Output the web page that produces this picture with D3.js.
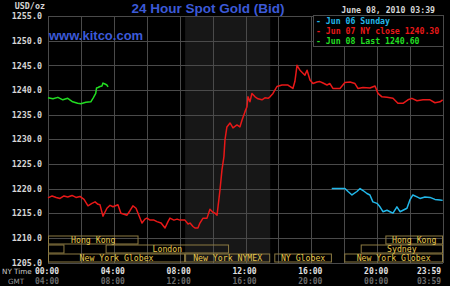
<!DOCTYPE html>
<html>
<head>
<meta charset="utf-8">
<script src="https://cdn.jsdelivr.net/npm/d3@7"></script>
<style>
  body { margin: 0; background: #000; overflow: hidden; }
  svg { display: block; }
  text { font-family: 'DejaVu Sans Mono', monospace; }
</style>
</head>
<body>
<svg></svg>
<script>
// ---- data (hours in NY time, price in USD/oz) ----
const jun08Hours = [0, 0.3, 0.6, 0.9, 1.2, 1.5, 1.8, 2.0, 2.3, 2.6, 2.75, 2.9, 2.95, 3.04, 3.16, 3.28, 3.34, 3.46, 3.58, 3.65];
const jun08Values = [1238.4, 1238.2, 1238.5, 1238.0, 1238.3, 1237.6, 1237.3, 1237.2, 1237.5, 1237.6, 1238.4, 1239.3, 1240.4, 1240.5, 1240.7, 1240.8, 1241.4, 1241.2, 1241.0, 1240.6];

const jun07Hours = [
  0, 0.25, 0.5, 0.73, 0.97, 1.2, 1.46, 1.7, 1.94, 2.19, 2.43, 2.67, 2.86, 3.04, 3.16, 3.34, 3.58, 3.77, 3.95,
  4.25, 4.43, 4.62, 4.8, 4.98, 5.16, 5.35, 5.47, 5.71, 5.89, 6.01, 6.2, 6.44, 6.62, 6.87, 7.11, 7.29, 7.41,
  7.65, 7.84, 8.02, 8.32, 8.51, 8.63, 8.81, 8.93, 9.11, 9.23, 9.42, 9.66, 9.84, 10.02, 10.15, 10.27, 10.33,
  10.45, 10.57, 10.69, 10.75, 10.87, 11.06, 11.24, 11.48, 11.66, 11.79, 11.97, 12.09, 12.15, 12.27, 12.39,
  12.58, 12.76, 13.0, 13.18, 13.37, 13.49, 13.67, 13.91, 14.22, 14.58, 14.88, 15.0, 15.13, 15.31, 15.49,
  15.61, 15.74, 15.92, 16.1, 16.34, 16.52, 16.71, 16.95, 17.13, 17.31, 17.74, 18.04, 18.35, 18.65, 18.83,
  19.14, 19.56, 19.87, 20.05, 20.29, 20.6, 20.96, 21.26, 21.57, 21.87, 22.11, 22.42, 22.78, 23.21, 23.51,
  23.82, 23.98
];
const jun07Values = [
  1218.1, 1218.5, 1218.2, 1218.0, 1218.5, 1218.3, 1218.6, 1218.2, 1218.4, 1217.8, 1216.5, 1217.0, 1217.3, 1216.8, 1216.7, 1214.4, 1216.0, 1216.6, 1216.3,
  1216.7, 1215.0, 1214.8, 1214.6, 1215.5, 1216.5, 1216.0, 1215.0, 1213.0, 1213.8, 1214.0, 1213.6, 1213.6, 1213.3, 1213.0, 1212.0, 1213.3, 1214.0,
  1213.6, 1213.8, 1213.6, 1213.6, 1212.8, 1213.0, 1212.3, 1212.0, 1212.0, 1213.0, 1214.0, 1214.0, 1215.8, 1215.2, 1215.0, 1214.6, 1216.3,
  1219.7, 1223.8, 1226.5, 1229.8, 1232.5, 1233.3, 1232.3, 1232.9, 1232.5, 1233.9, 1235.6, 1236.6, 1238.6, 1237.6, 1239.3,
  1238.6, 1238.2, 1238.0, 1238.4, 1238.3, 1238.6, 1239.3, 1240.7, 1241.0, 1241.0, 1240.3, 1241.7, 1245.0, 1244.0, 1243.4,
  1243.0, 1244.0, 1242.0, 1241.3, 1241.6, 1241.7, 1241.4, 1241.0, 1241.3, 1240.3, 1240.3, 1241.5, 1241.6, 1241.3, 1240.3,
  1240.5, 1240.4, 1240.8, 1239.3, 1238.6, 1238.5, 1238.3, 1237.3, 1237.3, 1238.0, 1238.3, 1237.8, 1238.0, 1238.0, 1237.4,
  1237.6, 1238.0
];

const jun06Hours = [17.24, 18.04, 18.23, 18.47, 18.77, 18.96, 19.14, 19.38, 19.56, 19.74, 19.99, 20.17, 20.35, 20.6, 20.78, 20.96, 21.2, 21.39, 21.57, 21.81, 21.99, 22.17, 22.42, 22.6, 22.9, 23.21, 23.51, 23.82, 23.98];
const jun06Values = [1220.0, 1220.0, 1219.4, 1218.7, 1219.4, 1220.0, 1219.6, 1219.0, 1218.7, 1217.3, 1217.0, 1216.3, 1215.3, 1215.6, 1215.3, 1215.0, 1216.3, 1215.3, 1215.6, 1216.0, 1217.7, 1218.7, 1218.3, 1218.0, 1218.3, 1218.2, 1217.8, 1217.7, 1217.6];

const legendLabels = ['- Jun 06 Sunday', '- Jun 07 NY close 1240.30', '- Jun 08 Last 1240.60'];
const yTicks = [1205, 1210, 1215, 1220, 1225, 1230, 1235, 1240, 1245, 1250, 1255];
const timeTickHours = [0, 4, 8, 12, 16, 20, 24];
const nyTimeLabels = ['00:00', '04:00', '08:00', '12:00', '16:00', '20:00', '23:59'];
const gmtTimeLabels = ['04:00', '08:00', '12:00', '16:00', '20:00', '00:00', '03:59'];

const sessionNames = ['Hong Kong', 'Sydney', 'London', 'New York Globex', 'New York NYMEX', 'NY Globex', 'New York Globex', 'Sydney', 'Hong Kong'];
const sessionStart = [0, 0, 3.5, 0, 8.33, 13.75, 18, 19, 20.5];
const sessionEnd = [5.5, 1, 11, 8.33, 13.5, 17.25, 24, 24, 24];
const sessionRow = [0, 1, 1, 2, 2, 2, 2, 1, 0];

// ---- layout ----
const width = 450;
const height = 286;
const margin = { left: 48, top: 16, right: 7, bottom: 23.5 };
const innerWidth = width - margin.left - margin.right;
const innerHeight = height - margin.top - margin.bottom;
const bottomY = margin.top + innerHeight;

const colors = { jun06: '#22b8ea', jun07: '#e81818', jun08: '#22dd22' };
const blue = '#3c5ad8';
const gridColor = '#4a4a4a';

const svg = d3.select('svg').attr('width', width).attr('height', height);

svg.append('rect').attr('width', width).attr('height', height).attr('fill', '#000');

const x = d3.scaleLinear().domain([0, 24]).range([margin.left, margin.left + innerWidth]);
const y = d3.scaleLinear().domain([1205, 1255]).range([bottomY, margin.top]);

// NYMEX pit hours shading
const nymex = sessionNames.indexOf('New York NYMEX');
svg.append('rect')
  .attr('x', x(sessionStart[nymex]))
  .attr('y', margin.top)
  .attr('width', x(sessionEnd[nymex]) - x(sessionStart[nymex]))
  .attr('height', innerHeight)
  .attr('fill', '#171717');

// grid
svg.append('g')
  .attr('transform', `translate(0, ${bottomY})`)
  .call(d3.axisBottom(x).tickValues(d3.range(0, 25, 2)).tickSize(-innerHeight).tickFormat(''))
  .call((g) => g.select('.domain').remove())
  .call((g) => g.selectAll('text').remove())
  .call((g) => g.selectAll('line').attr('stroke', gridColor).attr('shape-rendering', 'crispEdges'));

svg.append('g')
  .attr('transform', `translate(${margin.left}, 0)`)
  .call(d3.axisLeft(y).tickValues(yTicks).tickSize(-innerWidth).tickFormat(''))
  .call((g) => g.select('.domain').remove())
  .call((g) => g.selectAll('text').remove())
  .call((g) => g.selectAll('line').attr('stroke', gridColor).attr('shape-rendering', 'crispEdges'));

// y labels
svg.append('g')
  .attr('transform', `translate(${margin.left - 3}, 0)`)
  .call(d3.axisLeft(y).tickValues(yTicks).tickSize(0).tickFormat(d3.format('.1f')))
  .call((g) => g.select('.domain').remove())
  .call((g) => g.selectAll('text')
    .attr('fill', '#d6d6d6')
    .style('font-family', "'DejaVu Sans Mono', monospace")
    .style('font-size', '8.4px')
    .style('font-weight', 'bold'));

svg.append('text')
  .attr('x', margin.left - 3).attr('y', 9)
  .attr('text-anchor', 'end')
  .attr('fill', '#d6d6d6')
  .style('font-size', '8.4px').style('font-weight', 'bold')
  .text('USD/oz');

// trading sessions
const rowH = 9;
const sessions = sessionNames.map((name, i) => ({
  name, start: sessionStart[i], end: sessionEnd[i], row: sessionRow[i],
}));
const sg = svg.append('g').attr('class', 'sessions');
sessions.forEach((s) => {
  const y0 = bottomY - (3 - s.row) * rowH;
  const w = x(s.end) - x(s.start);
  sg.append('rect')
    .attr('x', x(s.start) + 0.5).attr('y', y0 + 0.5)
    .attr('width', w - 1).attr('height', rowH - 1)
    .attr('fill', 'none').attr('stroke', '#8c7a42');
  if (w > s.name.length * 5) {
    sg.append('text')
      .attr('x', x(s.start) + w / 2).attr('y', y0 + rowH - 1.5)
      .attr('text-anchor', 'middle')
      .attr('fill', '#e8c84c')
      .style('font-size', '8.2px')
      .text(s.name);
  }
});

// price lines
const line = d3.line().x((d) => x(d[0])).y((d) => y(d[1]));
const series = [
  { key: 'jun07', hours: jun07Hours, values: jun07Values },
  { key: 'jun06', hours: jun06Hours, values: jun06Values },
  { key: 'jun08', hours: jun08Hours, values: jun08Values },
];
svg.append('g').selectAll('path')
  .data(series)
  .enter()
  .append('path')
  .attr('d', (s) => line(s.hours.map((h, i) => [h, s.values[i]])))
  .attr('fill', 'none')
  .attr('stroke', (s) => colors[s.key])
  .attr('stroke-width', 1.5)
  .attr('stroke-linejoin', 'round');

// legend box
svg.append('rect')
  .attr('x', 313.5).attr('y', 15.5).attr('width', 130).attr('height', 31)
  .attr('fill', '#000').attr('stroke', gridColor);
const legendColors = [colors.jun06, colors.jun07, colors.jun08];
svg.append('g').selectAll('text')
  .data(legendLabels)
  .enter()
  .append('text')
  .attr('x', 316)
  .attr('y', (d, i) => 24 + i * 10)
  .attr('fill', (d, i) => legendColors[i])
  .style('font-size', '8.2px')
  .style('font-weight', 'bold')
  .text((d) => d);

svg.append('text')
  .attr('x', 435).attr('y', 13)
  .attr('text-anchor', 'end')
  .attr('fill', '#d6d6d6')
  .style('font-size', '8.2px').style('font-weight', 'bold')
  .text('June 08, 2010 03:39');

// title and site
svg.append('text')
  .attr('x', 208).attr('y', 13)
  .attr('text-anchor', 'middle')
  .attr('fill', blue)
  .style('font-family', "'Liberation Sans', Arial, sans-serif")
  .style('font-size', '13.5px').style('font-weight', 'bold')
  .text('24 Hour Spot Gold (Bid)');

svg.append('text')
  .attr('x', 49).attr('y', 40)
  .attr('fill', blue)
  .style('font-family', "'Liberation Sans', Arial, sans-serif")
  .style('font-size', '13px').style('font-weight', 'bold')
  .text('www.kitco.com');

// time labels
const labelX = (h) => Math.max(x(0) - 2, Math.min(x(24) - 14, x(h) - 1));
svg.append('g').selectAll('text')
  .data(timeTickHours)
  .enter()
  .append('text')
  .attr('x', labelX).attr('y', 273.5)
  .attr('text-anchor', 'middle')
  .attr('fill', '#e0e0e0')
  .style('font-size', '8px').style('font-weight', 'bold')
  .text((d, i) => nyTimeLabels[i]);

svg.append('g').selectAll('text')
  .data(timeTickHours)
  .enter()
  .append('text')
  .attr('x', labelX).attr('y', 283.5)
  .attr('text-anchor', 'middle')
  .attr('fill', '#6a6a6a')
  .style('font-size', '8px').style('font-weight', 'bold')
  .text((d, i) => gmtTimeLabels[i]);

svg.append('text')
  .attr('x', 2).attr('y', 273.5)
  .attr('fill', '#cfcfcf')
  .style('font-family', "'DejaVu Sans', sans-serif")
  .style('font-size', '7.2px')
  .text('NY Time');

svg.append('text')
  .attr('x', 8).attr('y', 283.5)
  .attr('fill', '#9a9a9a')
  .style('font-family', "'DejaVu Sans', sans-serif")
  .style('font-size', '7.2px')
  .text('GMT');
</script>
</body>
</html>
